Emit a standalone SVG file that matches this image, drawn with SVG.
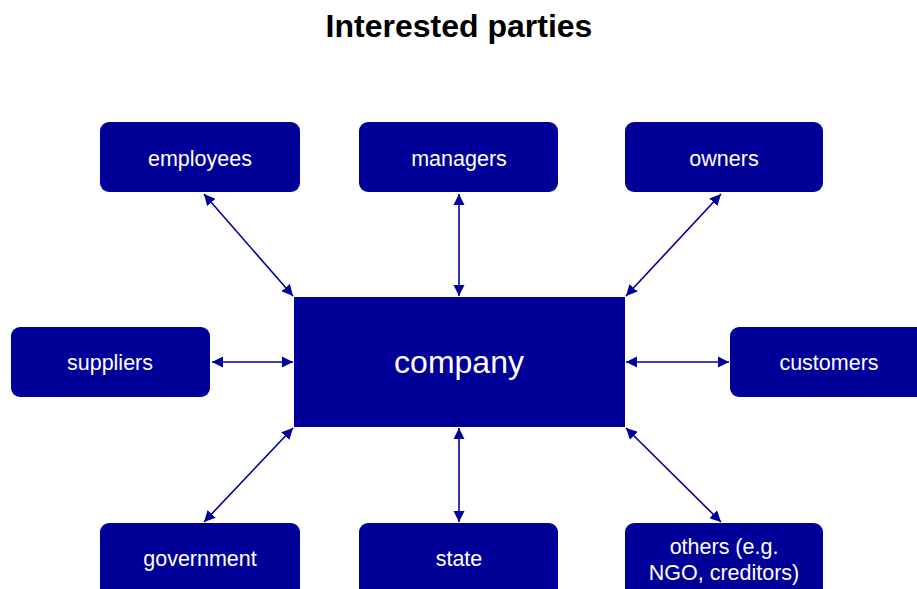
<svg xmlns="http://www.w3.org/2000/svg" width="917" height="589" viewBox="0 0 917 589">
<style>
.box{fill:#000099}
.t{fill:#fff;font-family:"Liberation Sans",Arial,sans-serif;font-size:21.5px;text-anchor:middle}
.c{stroke:#000099;stroke-width:1.6;fill:none;marker-start:url(#ah);marker-end:url(#ah)}
</style>
<defs>
<marker id="ah" viewBox="0 0 10 10" refX="10" refY="5" markerWidth="7" markerHeight="7" orient="auto-start-reverse" markerUnits="strokeWidth">
<path d="M0,0 L10,5 L0,10 z" fill="#000099"/>
</marker>
</defs>
<rect width="917" height="589" fill="#fff"/>
<text x="459" y="37" font-family="'Liberation Sans',Arial,sans-serif" font-size="32" font-weight="bold" text-anchor="middle" fill="#000">Interested parties</text>
<g id="connectors">
<line class="c" x1="204" y1="194" x2="293" y2="296"/>
<line class="c" x1="459" y1="194" x2="459" y2="296"/>
<line class="c" x1="721" y1="194" x2="626" y2="296"/>
<line class="c" x1="212" y1="362" x2="293" y2="362"/>
<line class="c" x1="626" y1="362" x2="729" y2="362"/>
<line class="c" x1="204" y1="522" x2="293" y2="428"/>
<line class="c" x1="459" y1="428" x2="459" y2="522"/>
<line class="c" x1="626" y1="428" x2="721" y2="522"/>
</g>
<g id="company"><rect class="box" x="294" y="297" width="331" height="130"/><text class="t" x="459" y="373" style="font-size:32px">company</text></g>
<g id="employees"><rect class="box" x="100" y="122" width="200" height="70" rx="9"/><text class="t" x="200" y="166">employees</text></g>
<g id="managers"><rect class="box" x="359" y="122" width="199" height="70" rx="9"/><text class="t" x="459" y="166">managers</text></g>
<g id="owners"><rect class="box" x="625" y="122" width="198" height="70" rx="9"/><text class="t" x="724" y="166">owners</text></g>
<g id="suppliers"><rect class="box" x="11" y="327" width="199" height="70" rx="9"/><text class="t" x="110" y="370">suppliers</text></g>
<g id="customers"><rect class="box" x="730" y="327" width="200" height="70" rx="9"/><text class="t" x="829" y="370">customers</text></g>
<g id="government"><rect class="box" x="100" y="523" width="200" height="76" rx="9"/><text class="t" x="200" y="566">government</text></g>
<g id="state"><rect class="box" x="359" y="523" width="199" height="76" rx="9"/><text class="t" x="459" y="566">state</text></g>
<g id="others"><rect class="box" x="625" y="523" width="198" height="76" rx="9"/><text class="t" x="724" y="554">others (e.g.</text><text class="t" x="724" y="580">NGO, creditors)</text></g>
</svg>
